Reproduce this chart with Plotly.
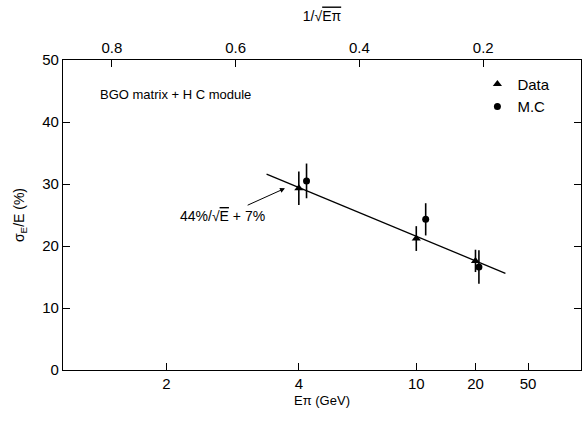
import numpy as np
import plotly.graph_objects as go

# ---- data ----
data_E = [4.0, 10.0, 20.0]
data_sigma = [29.3, 21.2, 17.6]
data_err = [2.7, 2.0, 1.8]

mc_E = [4.2, 11.0, 21.0]
mc_sigma = [30.5, 24.3, 16.6]
mc_err = [2.8, 2.6, 2.7]

fit_E = [3.3, 32.0]
fit_sigma = [31.6, 15.6]

bottom_tick_E = [2, 4, 10, 20, 50]
bottom_tick_text = ["2", "4", "10", "20", "50"]
top_tick_vals = [0.8, 0.6, 0.4, 0.2]
top_tick_text = ["0.8", "0.6", "0.4", "0.2"]
y_ticks = [0, 10, 20, 30, 40, 50]


def inv_sqrt(e):
    return 1.0 / np.sqrt(np.asarray(e, dtype=float))


FONT = "Liberation Sans, Arial, sans-serif"

fig = go.Figure()

fig.add_trace(go.Scatter(
    x=inv_sqrt(fit_E), y=fit_sigma, mode="lines",
    line=dict(color="black", width=1.3), showlegend=False, hoverinfo="skip"))

fig.add_trace(go.Scatter(
    x=inv_sqrt(data_E), y=data_sigma, mode="markers", name="Data",
    marker=dict(symbol="triangle-up", size=8, color="black"),
    error_y=dict(type="data", array=data_err, width=0, thickness=1.6, color="black")))

fig.add_trace(go.Scatter(
    x=inv_sqrt(mc_E), y=mc_sigma, mode="markers", name="M.C",
    marker=dict(symbol="circle", size=7, color="black"),
    error_y=dict(type="data", array=mc_err, width=0, thickness=1.6, color="black")))

# invisible trace to activate the top axis
fig.add_trace(go.Scatter(x=[0.5], y=[0], xaxis="x2", mode="markers",
                         marker=dict(opacity=0), showlegend=False, hoverinfo="skip"))

fig.update_layout(
    width=584, height=423,
    margin=dict(l=63, r=3, t=60, b=53),
    paper_bgcolor="white", plot_bgcolor="white",
    font=dict(family=FONT, color="black", size=15),
    xaxis=dict(
        range=[0.869, 0.0585],
        tickvals=list(inv_sqrt(bottom_tick_E)), ticktext=bottom_tick_text,
        ticks="inside", ticklen=7, tickwidth=1, tickcolor="black",
        showline=True, linecolor="black", linewidth=1.2,
        showgrid=False, zeroline=False, tickfont=dict(size=15),
        title=dict(text="Eπ (GeV)", font=dict(size=13), standoff=4),
    ),
    xaxis2=dict(
        range=[0.879, 0.042], overlaying="x", side="top",
        tickvals=top_tick_vals, ticktext=top_tick_text,
        ticks="inside", ticklen=7, tickwidth=1, tickcolor="black",
        showline=True, linecolor="black", linewidth=1.2,
        showgrid=False, zeroline=False, tickfont=dict(size=15),
        title=dict(text="1/√<span style='text-decoration:overline'>Eπ</span>",
                   font=dict(size=14), standoff=14),
    ),
    yaxis=dict(
        range=[0, 50], tickvals=y_ticks,
        ticks="inside", ticklen=7, tickwidth=1, tickcolor="black",
        showline=True, mirror="ticks", linecolor="black", linewidth=1.2,
        showgrid=False, zeroline=False, tickfont=dict(size=15),
        title=dict(text="σ<sub>E</sub>/E (%)", font=dict(size=14), standoff=14),
    ),
    legend=dict(x=0.80, y=0.975, xanchor="left", yanchor="top",
                font=dict(size=15), bgcolor="rgba(0,0,0,0)", itemwidth=30),
    showlegend=True,
)

fig.add_annotation(
    text="BGO matrix + H C module", xref="paper", yref="paper",
    x=0.068, y=0.888, xanchor="left", yanchor="middle",
    showarrow=False, font=dict(size=13))

# formula label with arrow pointing at the fit line
fig.add_annotation(
    text="44%/√<span style='text-decoration:overline'>E</span> + 7%",
    xref="x", yref="y", x=0.5217, y=29.3,
    ax=-62, ay=28, showarrow=True, arrowhead=2, arrowsize=1,
    arrowwidth=1, arrowcolor="black", standoff=0, startstandoff=4,
    font=dict(size=14))

fig.write_html("out.html")
